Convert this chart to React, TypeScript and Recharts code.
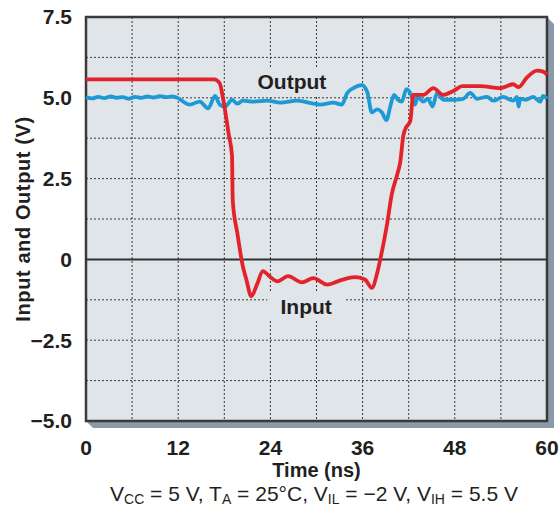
import { LineChart, Line, XAxis, YAxis, CartesianGrid, ReferenceLine, ReferenceArea } from "recharts";

const W = 560;
const H = 508;
const FONT = '"Liberation Sans", Arial, Helvetica, sans-serif';
const INK = "#231f20";

// time axis (ns) and voltage axis (V)
const xTicks = [0, 12, 24, 36, 48, 60];
const xGrid = [6, 12, 18, 24, 30, 36, 42, 48, 54];
const yTicks = [-5, -2.5, 0, 2.5, 5, 7.5];
const yGrid = [-3.75, -2.5, -1.25, 1.25, 2.5, 3.75, 5, 6.25];

// red trace
const inputTime = [
  0, 16.7, 17.4, 17.8, 18.6, 19.0, 19.1, 19.7, 20.4, 20.9, 21.5, 22.3, 23.0, 24.0, 24.9, 26.3, 28.1, 29.6,
  31.4, 33.1, 35.0, 36.3, 37.2, 37.9, 38.3, 39.2, 39.8, 40.5, 40.9, 41.3, 41.7, 42.2, 42.6, 43.9, 45.2,
  46.5, 47.8, 49.0, 51.3, 53.9, 55.6, 56.3, 57.4, 58.7, 59.5, 60,
];
const inputVolts = [
  5.57, 5.57, 5.45, 5.03, 3.83, 3.22, 1.81, 0.81, -0.2, -0.65, -1.14, -0.75, -0.36, -0.55, -0.68, -0.52, -0.71,
  -0.58, -0.78, -0.65, -0.55, -0.62, -0.88, -0.42, 0, 1.11, 2.02, 2.62, 3.01, 3.83, 4.1, 4.28, 5.09, 5.09,
  5.3, 5.09, 5.21, 5.36, 5.36, 5.3, 5.42, 5.33, 5.63, 5.84, 5.81, 5.72,
];

// blue trace
const outputTime = [
  0, 0.8, 1.6, 2.4, 3.2, 4.0, 4.8, 5.6, 6.4, 7.2, 8.0, 8.8, 9.6, 10.4, 11.2, 11.8, 13.5, 14.8, 15.9, 16.8,
  17.4, 18.1, 19.0, 19.7, 20.4, 21.7, 23.6, 25.3, 27.5, 29.6, 30.5, 32.2, 33.3, 34.0, 34.8, 35.9, 36.6, 37.2,
  37.9, 38.5, 39.1, 39.6, 40.1, 40.6, 41.1, 41.7, 42.2, 42.8, 43.2, 43.9, 44.5, 45.1, 45.7, 46.5, 47.8, 49.1,
  50.0, 50.9, 52.2, 53.0, 54.3, 55.6, 56.1, 56.3, 56.5, 57.2, 58.2, 59.1, 59.5, 60,
];
const outputVolts = [
  5.02, 4.98, 5.03, 4.99, 5.04, 5.0, 5.02, 4.97, 5.03, 5.0, 5.04, 5.01, 5.05, 5.02, 5.04, 5.01, 4.79, 4.88,
  4.67, 5.06, 4.79, 4.73, 4.94, 4.82, 4.91, 4.88, 4.91, 4.85, 4.91, 4.82, 4.79, 4.85, 4.79, 5.15, 5.3, 5.39,
  5.18, 4.55, 4.64, 4.55, 4.31, 4.73, 5.09, 4.94, 4.88, 5.27, 5.15, 4.79, 5.03, 4.88, 4.97, 4.73, 5.15, 4.94,
  4.94, 4.97, 5.15, 4.97, 5.03, 4.91, 5.03, 4.91, 5.03, 4.73, 4.97, 4.94, 5.03, 4.88, 5.06, 4.97,
];

const inputData = inputTime.map((t, i) => ({ t, v: inputVolts[i] }));
const outputData = outputTime.map((t, i) => ({ t, v: outputVolts[i] }));

const fmtVolts = (v: number) => (v === 0 ? "0" : (v < 0 ? "\u2212" : "") + Math.abs(v).toFixed(1));

const YTitle = ({ viewBox }: any) => {
  const cx = 22.5;
  const cy = viewBox.y + viewBox.height / 2;
  return (
    <text
      x={cx}
      y={cy}
      transform={`rotate(-90, ${cx}, ${cy})`}
      textAnchor="middle"
      dominantBaseline="central"
      fontFamily={FONT}
      fontSize={20}
      fontWeight="bold"
      fill={INK}
      letterSpacing={0.6}
    >
      Input and Output (V)
    </text>
  );
};

const labelStyle = { fontFamily: FONT, fontSize: 21, fontWeight: "bold" as const, fill: INK };

export default function App() {
  return (
    <div style={{ position: "absolute", left: 0, top: 0, width: W, height: H, background: "#fff" }}>
      {/* panel shadow + conditions line */}
      <svg width={W} height={H} style={{ position: "absolute", left: 0, top: 0 }}>
        <polygon points="86,421 547,421 547,17 554,24 554,428 93,428" fill="#8a9aa9" />
        <text x={314} y={501} textAnchor="middle" fontFamily={FONT} fontSize={21} fill={INK}>
          <tspan>V</tspan>
          <tspan fontSize={14} dy={3}>CC</tspan>
          <tspan dy={-3}> = 5 V, T</tspan>
          <tspan fontSize={14} dy={3}>A</tspan>
          <tspan dy={-3}> = 25°C, V</tspan>
          <tspan fontSize={14} dy={3}>IL</tspan>
          <tspan dy={-3}> = {"\u2212"}2 V, V</tspan>
          <tspan fontSize={14} dy={3}>IH</tspan>
          <tspan dy={-3}> = 5.5 V</tspan>
        </text>
      </svg>
      <div style={{ position: "absolute", left: 0, top: 0 }}>
        <LineChart width={W} height={H} margin={{ top: 17, right: 13, left: 0, bottom: 0 }}>
          <CartesianGrid
            fill="#dfe5e9"
            fillOpacity={1}
            stroke="#3a3a3a"
            strokeDasharray="2 2"
            horizontalValues={yGrid}
            verticalValues={xGrid}
          />
          <XAxis
            type="number"
            dataKey="t"
            domain={[0, 60]}
            ticks={xTicks}
            height={87}
            axisLine={false}
            tickLine={false}
            tickSize={0}
            tickMargin={19}
            tick={{ fontFamily: FONT, fontSize: 21, fontWeight: "bold", fill: INK }}
            label={{ value: "Time (ns)", position: "insideTop", offset: 42, ...labelStyle, fontSize: 20 }}
          />
          <YAxis
            type="number"
            domain={[-5, 7.5]}
            ticks={yTicks}
            width={86}
            axisLine={false}
            tickLine={false}
            tickSize={0}
            tickMargin={14}
            tickFormatter={fmtVolts}
            tick={{ fontFamily: FONT, fontSize: 21, fontWeight: "bold", fill: INK }}
            label={{ content: YTitle }}
          />
          <ReferenceArea
            x1={22.9}
            x2={30.7}
            y1={5.06}
            y2={5.92}
            fill="#dfe5e9"
            fillOpacity={1}
            stroke="none"
            label={{ value: "Output", position: "center", ...labelStyle }}
          />
          <ReferenceArea
            x1={23.6}
            x2={33.7}
            y1={-1.85}
            y2={-1.04}
            fill="#dfe5e9"
            fillOpacity={1}
            stroke="none"
            label={{ value: "Input", position: "center", ...labelStyle }}
          />
          <ReferenceLine y={0} stroke="#333" strokeWidth={2} />
          <ReferenceArea
            x1={0}
            x2={60}
            y1={-5}
            y2={7.5}
            fill="none"
            stroke="#3a3a3a"
            strokeWidth={2.5}
            ifOverflow="visible"
          />
          <Line
            data={outputData}
            dataKey="v"
            type="monotone"
            stroke="#1d9ad6"
            strokeWidth={3.8}
            dot={false}
            isAnimationActive={false}
          />
          <Line
            data={inputData}
            dataKey="v"
            type="monotone"
            stroke="#e2232b"
            strokeWidth={3.8}
            dot={false}
            isAnimationActive={false}
          />
        </LineChart>
      </div>
    </div>
  );
}
